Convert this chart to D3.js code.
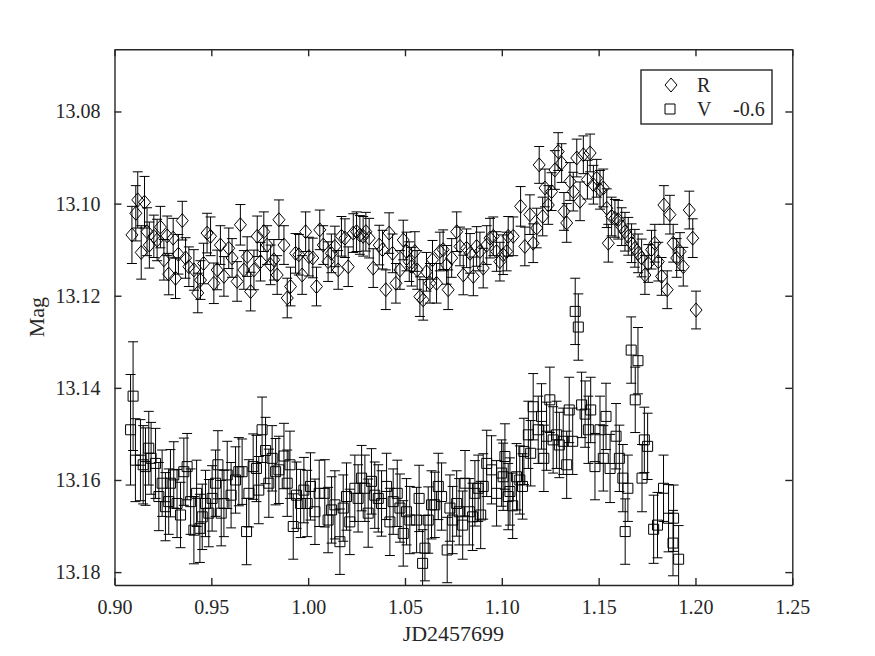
<html>
  <head>
    <title>R V light curve</title>
    <style>
      body { margin: 0; background: #fff; }
      .chart text { font-family: "Liberation Serif", "Times New Roman", serif; fill: #262626; }
      .axis line, .axis path { stroke: #262626; }
    </style>
    <script src="https://d3js.org/d3.v7.min.js"></script>
  </head>
  <body>
    <svg class="chart"></svg>
    <script>
      var width = 875,
          height = 656;

      // R band
      var rJD = [0.9090,0.9110,0.9120,0.9138,0.9155,0.9168,0.9180,0.9203,0.9220,0.9237,
        0.9255,0.9272,0.9280,0.9303,0.9315,0.9330,0.9350,0.9367,0.9384,0.9410,
        0.9430,0.9444,0.9460,0.9478,0.9496,0.9513,0.9530,0.9547,0.9565,0.9590,
        0.9607,0.9633,0.9650,0.9668,0.9685,0.9703,0.9720,0.9737,0.9754,0.9771,
        0.9788,0.9806,0.9823,0.9840,0.9849,0.9875,0.9892,0.9909,0.9935,0.9952,
        0.9969,0.9987,1.0004,1.0024,1.0043,1.0060,1.0078,1.0103,1.0120,1.0138,
        1.0155,1.0172,1.0190,1.0207,1.0233,1.0250,1.0267,1.0284,1.0298,1.0315,
        1.0336,1.0367,1.0384,1.0401,1.0418,1.0436,1.0453,1.0474,1.0491,1.0508,
        1.0522,1.0534,1.0551,1.0563,1.0577,1.0594,1.0611,1.0629,1.0642,1.0663,
        1.0680,1.0697,1.0715,1.0723,1.0741,1.0767,1.0784,1.0801,1.0818,1.0836,
        1.0853,1.0870,1.0887,1.0904,1.0922,1.0939,1.0956,1.0973,1.0990,1.1007,
        1.1025,1.1033,1.1059,1.1097,1.1119,1.1145,1.1162,1.1180,1.1193,1.1211,
        1.1223,1.1240,1.1257,1.1274,1.1291,1.1309,1.1321,1.1335,1.1352,1.1369,
        1.1387,1.1404,1.1421,1.1442,1.1456,1.1473,1.1490,1.1507,1.1524,1.1542,
        1.1550,1.1567,1.1584,1.1601,1.1619,1.1636,1.1653,1.1670,1.1687,1.1704,
        1.1722,1.1739,1.1756,1.1773,1.1790,1.1808,1.1825,1.1837,1.1854,1.1868,
        1.1885,1.1903,1.1920,1.1937,1.1968,1.1986,1.2003];
      var rMag = [13.1068,13.1021,13.0992,13.1106,13.0997,13.1061,13.1090,13.1071,13.1079,13.1051,
        13.1122,13.1070,13.1153,13.1075,13.1162,13.1110,13.1037,13.1118,13.1137,13.1144,
        13.1194,13.1166,13.1130,13.1064,13.1071,13.1173,13.1144,13.1090,13.1158,13.1097,
        13.1118,13.1169,13.1046,13.1144,13.1115,13.1191,13.1144,13.1071,13.1126,13.1061,
        13.1090,13.1133,13.1122,13.1155,13.1035,13.1090,13.1205,13.1180,13.1108,13.1111,
        13.1155,13.1061,13.1115,13.1118,13.1180,13.1057,13.1090,13.1126,13.1108,13.1093,
        13.1144,13.1071,13.1075,13.1137,13.1064,13.1061,13.1068,13.1071,13.1061,13.1075,
        13.1140,13.1090,13.1100,13.1187,13.1064,13.1108,13.1173,13.1144,13.1079,13.1104,
        13.1126,13.1137,13.1104,13.1144,13.1202,13.1209,13.1148,13.1173,13.1122,13.1173,
        13.1104,13.1100,13.1133,13.1187,13.1118,13.1061,13.1093,13.1155,13.1097,13.1108,
        13.1158,13.1093,13.1104,13.1140,13.1090,13.1075,13.1071,13.1104,13.1126,13.1111,
        13.1104,13.1071,13.1071,13.1006,13.1093,13.1024,13.1086,13.1053,13.0916,13.1028,
        13.0966,13.1003,13.0974,13.0927,13.0887,13.0912,13.1017,13.1042,13.0952,13.0974,
        13.0901,13.0995,13.0894,13.0948,13.0890,13.0959,13.0945,13.0970,13.0966,13.1010,
        13.1086,13.1028,13.1032,13.1035,13.1050,13.1061,13.1071,13.1086,13.1097,13.1108,
        13.1118,13.1155,13.1130,13.1100,13.1086,13.1126,13.1158,13.1003,13.1187,13.1024,
        13.1086,13.1118,13.1104,13.1137,13.1014,13.1075,13.1231];
      var rErr = [0.0062,0.0060,0.0061,0.0058,0.0056,0.0052,0.0050,0.0046,0.0045,0.0045,
        0.0044,0.0043,0.0045,0.0043,0.0044,0.0043,0.0042,0.0044,0.0043,0.0044,
        0.0043,0.0042,0.0044,0.0043,0.0042,0.0044,0.0043,0.0042,0.0043,0.0044,
        0.0042,0.0043,0.0044,0.0042,0.0043,0.0042,0.0043,0.0044,0.0042,0.0043,
        0.0042,0.0043,0.0044,0.0042,0.0043,0.0042,0.0043,0.0042,0.0043,0.0044,
        0.0042,0.0043,0.0042,0.0043,0.0042,0.0043,0.0042,0.0043,0.0042,0.0044,
        0.0042,0.0043,0.0042,0.0043,0.0042,0.0043,0.0042,0.0043,0.0042,0.0043,
        0.0042,0.0043,0.0042,0.0043,0.0044,0.0042,0.0043,0.0042,0.0043,0.0042,
        0.0043,0.0042,0.0043,0.0042,0.0043,0.0044,0.0042,0.0043,0.0042,0.0043,
        0.0042,0.0043,0.0042,0.0043,0.0042,0.0043,0.0042,0.0043,0.0042,0.0043,
        0.0042,0.0043,0.0042,0.0043,0.0042,0.0043,0.0042,0.0043,0.0042,0.0043,
        0.0042,0.0043,0.0042,0.0043,0.0042,0.0043,0.0042,0.0043,0.0040,0.0042,
        0.0041,0.0042,0.0041,0.0042,0.0041,0.0042,0.0041,0.0042,0.0041,0.0042,
        0.0041,0.0042,0.0041,0.0042,0.0041,0.0042,0.0041,0.0042,0.0041,0.0042,
        0.0041,0.0042,0.0041,0.0042,0.0041,0.0042,0.0041,0.0042,0.0041,0.0042,
        0.0041,0.0042,0.0041,0.0042,0.0041,0.0042,0.0041,0.0042,0.0041,0.0042,
        0.0041,0.0042,0.0041,0.0042,0.0041,0.0042,0.0041];

      // V band, plotted with an offset of -0.6 mag
      var vShift = -0.6;
      var vJD = [0.9083,0.9096,0.9108,0.9134,0.9148,0.9160,0.9177,0.9189,0.9212,0.9229,
        0.9246,0.9263,0.9280,0.9289,0.9306,0.9323,0.9341,0.9358,0.9375,0.9393,
        0.9410,0.9424,0.9441,0.9453,0.9470,0.9487,0.9504,0.9522,0.9534,0.9551,
        0.9565,0.9582,0.9602,0.9625,0.9642,0.9659,0.9682,0.9694,0.9716,0.9733,
        0.9745,0.9762,0.9780,0.9797,0.9814,0.9832,0.9849,0.9875,0.9892,0.9906,
        0.9923,0.9940,0.9961,0.9978,0.9995,1.0012,1.0035,1.0057,1.0086,1.0103,
        1.0121,1.0138,1.0164,1.0181,1.0198,1.0215,1.0241,1.0258,1.0276,1.0293,
        1.0310,1.0327,1.0344,1.0362,1.0379,1.0405,1.0422,1.0439,1.0460,1.0474,
        1.0491,1.0508,1.0525,1.0560,1.0573,1.0591,1.0603,1.0620,1.0637,1.0654,
        1.0672,1.0689,1.0718,1.0732,1.0746,1.0767,1.0780,1.0798,1.0810,1.0832,
        1.0849,1.0861,1.0878,1.0891,1.0904,1.0922,1.0947,1.0973,1.0999,1.1007,
        1.1016,1.1033,1.1042,1.1056,1.1076,1.1093,1.1107,1.1114,1.1137,1.1149,
        1.1162,1.1188,1.1205,1.1217,1.1231,1.1248,1.1265,1.1283,1.1297,1.1317,
        1.1335,1.1348,1.1366,1.1379,1.1395,1.1412,1.1430,1.1447,1.1459,1.1481,
        1.1507,1.1524,1.1538,1.1559,1.1590,1.1607,1.1625,1.1637,1.1651,1.1668,
        1.1689,1.1703,1.1724,1.1736,1.1753,1.1784,1.1804,1.1835,1.1861,1.1884,
        1.1887,1.1913];
      var vMag = [13.7491,13.7418,13.7557,13.7557,13.7567,13.7571,13.7531,13.7553,13.7564,13.7636,
        13.7607,13.7658,13.7647,13.7607,13.7589,13.7651,13.7676,13.7582,13.7571,13.7647,
        13.7709,13.7629,13.7705,13.7680,13.7651,13.7672,13.7640,13.7607,13.7567,13.7672,
        13.7651,13.7589,13.7633,13.7600,13.7582,13.7582,13.7712,13.7629,13.7571,13.7575,
        13.7622,13.7491,13.7536,13.7607,13.7553,13.7582,13.7578,13.7548,13.7607,13.7567,
        13.7701,13.7633,13.7651,13.7622,13.7651,13.7614,13.7669,13.7629,13.7629,13.7687,
        13.7665,13.7654,13.7734,13.7661,13.7636,13.7691,13.7618,13.7640,13.7596,13.7618,
        13.7672,13.7603,13.7633,13.7640,13.7651,13.7614,13.7691,13.7647,13.7629,13.7661,
        13.7716,13.7669,13.7687,13.7687,13.7640,13.7781,13.7748,13.7687,13.7654,13.7654,
        13.7614,13.7636,13.7752,13.7661,13.7687,13.7651,13.7669,13.7698,13.7607,13.7669,
        13.7680,13.7629,13.7618,13.7676,13.7614,13.7564,13.7578,13.7629,13.7585,13.7593,
        13.7549,13.7636,13.7625,13.7656,13.7593,13.7600,13.7614,13.7538,13.7502,13.7542,
        13.7441,13.7491,13.7462,13.7553,13.7505,13.7426,13.7513,13.7502,13.7524,13.7516,
        13.7567,13.7448,13.7516,13.7234,13.7268,13.7437,13.7457,13.7491,13.7448,13.7571,
        13.7491,13.7553,13.7462,13.7575,13.7505,13.7553,13.7596,13.7712,13.7618,13.7318,
        13.7426,13.7341,13.7596,13.7513,13.7527,13.7707,13.7698,13.7618,13.7683,13.7737,
        13.7683,13.7772];
      var vErr = [0.0120,0.0118,0.0090,0.0088,0.0085,0.0084,0.0080,0.0078,0.0076,0.0074,
        0.0072,0.0074,0.0071,0.0073,0.0072,0.0074,0.0071,0.0073,0.0072,0.0071,
        0.0073,0.0072,0.0074,0.0071,0.0072,0.0073,0.0071,0.0072,0.0074,0.0071,
        0.0072,0.0073,0.0071,0.0072,0.0074,0.0071,0.0072,0.0073,0.0071,0.0072,
        0.0073,0.0071,0.0072,0.0074,0.0071,0.0072,0.0073,0.0071,0.0072,0.0073,
        0.0071,0.0072,0.0074,0.0071,0.0072,0.0073,0.0071,0.0072,0.0073,0.0071,
        0.0072,0.0074,0.0071,0.0072,0.0073,0.0071,0.0072,0.0073,0.0071,0.0072,
        0.0074,0.0071,0.0072,0.0073,0.0071,0.0072,0.0073,0.0071,0.0072,0.0074,
        0.0071,0.0072,0.0073,0.0071,0.0072,0.0073,0.0071,0.0072,0.0074,0.0071,
        0.0072,0.0073,0.0071,0.0072,0.0073,0.0071,0.0072,0.0074,0.0071,0.0072,
        0.0073,0.0071,0.0072,0.0073,0.0071,0.0072,0.0074,0.0071,0.0072,0.0073,
        0.0071,0.0072,0.0073,0.0071,0.0072,0.0074,0.0071,0.0072,0.0073,0.0071,
        0.0072,0.0073,0.0071,0.0072,0.0074,0.0071,0.0072,0.0073,0.0071,0.0072,
        0.0073,0.0071,0.0072,0.0072,0.0072,0.0071,0.0072,0.0073,0.0071,0.0072,
        0.0073,0.0071,0.0072,0.0074,0.0071,0.0072,0.0073,0.0071,0.0072,0.0072,
        0.0071,0.0072,0.0073,0.0071,0.0072,0.0074,0.0071,0.0072,0.0073,0.0071,
        0.0072,0.0073];

      var xTicks = [0.90, 0.95, 1.00, 1.05, 1.10, 1.15, 1.20, 1.25];
      var yTicks = [13.08, 13.10, 13.12, 13.14, 13.16, 13.18];

      var plotLeft = 114.5, plotRight = 792.3, plotTop = 49.3, plotBottom = 585;

      var x = d3.scaleLinear().domain([0.90, 1.25]).range([plotLeft, plotRight]);
      var y = d3.scaleLinear().domain([13.0665, 13.1828]).range([plotTop, plotBottom]);

      var chart = d3.select(".chart")
          .attr("width", width)
          .attr("height", height);

      chart.append("rect").attr("width", width).attr("height", height).attr("fill", "#fff");

      chart.append("clipPath").attr("id", "plotclip")
        .append("rect")
          .attr("x", plotLeft).attr("y", plotTop)
          .attr("width", plotRight - plotLeft).attr("height", plotBottom - plotTop);

      var plot = chart.append("g").attr("clip-path", "url(#plotclip)");

      function series(jd, mag, err, shift) {
        return jd.map(function(d, i) { return {x: d, y: mag[i] + shift, e: err[i]}; });
      }
      var rData = series(rJD, rMag, rErr, 0);
      var vData = series(vJD, vMag, vErr, vShift);

      var cap = 5;
      function drawBars(data) {
        plot.append("g")
            .attr("stroke", "#000")
            .attr("stroke-width", 1)
            .attr("fill", "none")
          .selectAll("path")
            .data(data)
          .enter().append("path")
            .attr("d", function(d) {
              var px = x(d.x), y1 = y(d.y - d.e), y2 = y(d.y + d.e);
              return "M" + px + "," + y1 + "V" + y2 +
                "M" + (px - cap) + "," + y1 + "H" + (px + cap) +
                "M" + (px - cap) + "," + y2 + "H" + (px + cap);
            });
      }

      function diamond(cx, cy) {
        return "M" + cx + "," + (cy - 7) + "L" + (cx + 6) + "," + cy +
          "L" + cx + "," + (cy + 7) + "L" + (cx - 6) + "," + cy + "Z";
      }
      function square(cx, cy) {
        return "M" + (cx - 5) + "," + (cy - 5) + "h10v10h-10Z";
      }

      function drawMarks(data, shape) {
        plot.append("g")
            .attr("stroke", "#000")
            .attr("stroke-width", 1)
            .attr("fill", "none")
          .selectAll("path")
            .data(data)
          .enter().append("path")
            .attr("d", function(d) { return shape(x(d.x), y(d.y)); });
      }

      drawBars(rData);
      drawMarks(rData, diamond);
      drawBars(vData);
      drawMarks(vData, square);

      // axes, MATLAB style box with inward ticks
      var xAxis = d3.axisBottom(x).tickValues(xTicks).tickFormat(d3.format(".2f"))
          .tickSizeInner(-7).tickSizeOuter(0).tickPadding(15);
      var xAxisTop = d3.axisTop(x).tickValues(xTicks).tickFormat("")
          .tickSizeInner(-7).tickSizeOuter(0);
      var yAxis = d3.axisLeft(y).tickValues(yTicks).tickFormat(d3.format(".2f"))
          .tickSizeInner(-7).tickSizeOuter(0).tickPadding(14);
      var yAxisRight = d3.axisRight(y).tickValues(yTicks).tickFormat("")
          .tickSizeInner(-7).tickSizeOuter(0);

      function styleAxis(g) {
        g.attr("class", "axis");
        g.selectAll("path").attr("stroke-width", 1.4);
        g.selectAll("line").attr("stroke-width", 1.4);
        g.selectAll("text")
          .attr("font-family", "Liberation Serif, serif")
          .attr("font-size", 20)
          .attr("fill", "#262626");
      }

      chart.append("g").attr("transform", "translate(0," + plotBottom + ")").call(xAxis).call(styleAxis);
      chart.append("g").attr("transform", "translate(0," + plotTop + ")").call(xAxisTop).call(styleAxis);
      chart.append("g").attr("transform", "translate(" + plotLeft + ",0)").call(yAxis).call(styleAxis);
      chart.append("g").attr("transform", "translate(" + plotRight + ",0)").call(yAxisRight).call(styleAxis);

      chart.append("text")
          .attr("x", (plotLeft + plotRight) / 2)
          .attr("y", 641)
          .attr("text-anchor", "middle")
          .attr("font-size", 22)
          .text("JD2457699");

      chart.append("text")
          .attr("transform", "translate(44," + ((plotTop + plotBottom) / 2) + ") rotate(-90)")
          .attr("text-anchor", "middle")
          .attr("font-size", 22)
          .text("Mag");

      // legend
      var legend = chart.append("g");
      legend.append("rect")
          .attr("x", 641).attr("y", 70)
          .attr("width", 131).attr("height", 54)
          .attr("fill", "#fff")
          .attr("stroke", "#262626")
          .attr("stroke-width", 1.4);
      legend.append("path").attr("d", diamond(671, 85))
          .attr("fill", "none").attr("stroke", "#000");
      legend.append("path").attr("d", square(670, 109))
          .attr("fill", "none").attr("stroke", "#000");
      legend.append("text").attr("x", 697).attr("y", 92).attr("font-size", 20).text("R");
      legend.append("text").attr("x", 697).attr("y", 116).attr("font-size", 20).text("V");
      legend.append("text").attr("x", 733).attr("y", 116).attr("font-size", 20).text("-0.6");
    </script>
  </body>
</html>
